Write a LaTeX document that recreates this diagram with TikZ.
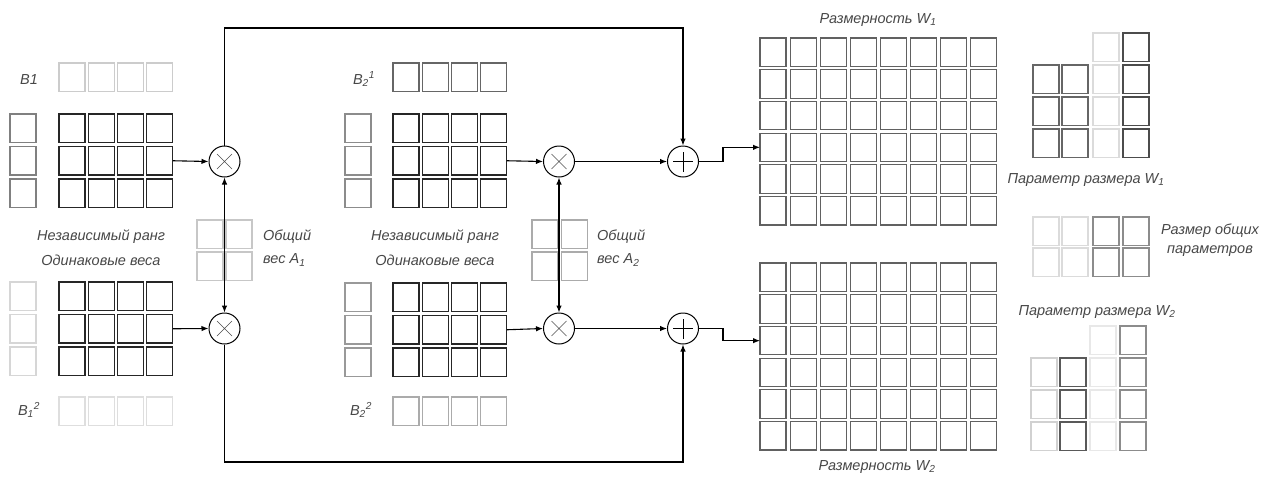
\documentclass[tikz,border=0pt]{standalone}
\usepackage{fontspec}
\setmainfont{Liberation Sans}
\usetikzlibrary{arrows.meta}
\newcommand\sqgrid[8]{%
  \foreach \rr in {1,...,#4}{\foreach \cc in {1,...,#5}{%
    \node[sq,draw=#8] (#1-\rr-\cc) at ({#2+(\cc-1)*#6},{#3+(\rr-1)*#7}) {};}}}
\tikzset{
  sq/.style={line width=1.1pt, inner sep=0pt, outer sep=0pt,
    minimum width=26pt, minimum height=28.5pt, anchor=north west},
  op/.style={circle, draw, line width=1pt, minimum size=31pt, inner sep=0pt},
  mulop/.style={op, path picture={
    \draw[line width=0.6pt, black!70]
      ([shift={(-7.5pt,-7.5pt)}]path picture bounding box.center) -- ([shift={(7.5pt,7.5pt)}]path picture bounding box.center)
      ([shift={(-7.5pt,7.5pt)}]path picture bounding box.center) -- ([shift={(7.5pt,-7.5pt)}]path picture bounding box.center);}},
  addop/.style={op, path picture={
    \draw[line width=0.7pt, black]
      ([shift={(-10pt,0pt)}]path picture bounding box.center) -- ([shift={(10pt,0pt)}]path picture bounding box.center)
      ([shift={(0pt,-10pt)}]path picture bounding box.center) -- ([shift={(0pt,10pt)}]path picture bounding box.center);}},
  conn/.style={line width=1.1pt, black},
  arr/.style={conn, -{Latex[length=7pt,width=5.5pt]}},
  darr/.style={conn, {Latex[length=7pt,width=5.5pt]}-{Latex[length=7pt,width=5.5pt]}},
  lbl/.style={font=\fontsize{14.5}{17}\selectfont\itshape, text=black!72, inner sep=0pt},
}
\begin{document}
\begin{tikzpicture}[x=1pt,y=-1pt]
\useasboundingbox (0,0) rectangle (1268,477);
% ---------- block 1 ----------
\sqgrid{ba}{59}{63}{1}{4}{29.3}{32.5}{black!20}
\sqgrid{la}{10}{114}{3}{1}{29.3}{32.5}{black!50}
\sqgrid{ga}{59}{114}{3}{4}{29.3}{32.5}{black!85}
\sqgrid{lb}{10}{282}{3}{1}{29.3}{32.5}{black!16}
\sqgrid{gb}{59}{282}{3}{4}{29.3}{32.5}{black!85}
\sqgrid{bb}{59}{397}{1}{4}{29.3}{32.5}{black!13}
\sqgrid{aa}{197}{220}{2}{2}{29}{32}{black!22}
% ---------- block 2 ----------
\sqgrid{bc}{393}{63}{1}{4}{29.3}{32.5}{black!60}
\sqgrid{lc}{345}{114}{3}{1}{29.3}{32.5}{black!45}
\sqgrid{gc}{393}{114}{3}{4}{29.3}{32.5}{black!85}
\sqgrid{ld}{345}{283}{3}{1}{29.3}{32.5}{black!40}
\sqgrid{gd}{393}{283}{3}{4}{29.3}{32.5}{black!85}
\sqgrid{bd}{393}{397}{1}{4}{29.3}{32.5}{black!33}
\sqgrid{ab}{532}{220}{2}{2}{29.5}{32}{black!33}
% ---------- W grids ----------
\sqgrid{wa}{760}{38}{6}{8}{30.1}{31.7}{black!62}
\sqgrid{wb}{760}{263}{6}{8}{30.1}{31.7}{black!62}
% ---------- parameter blocks ----------
\sqgrid{pa1}{1033}{65}{3}{1}{30}{32}{black!60}
\sqgrid{pa2}{1062}{65}{3}{1}{30}{32}{black!60}
\sqgrid{pa3}{1093}{33}{4}{1}{30}{32}{black!14}
\sqgrid{pa4}{1123}{33}{4}{1}{30}{32}{black!70}
\sqgrid{sh1}{1033}{217}{2}{1}{30}{31}{black!14}
\sqgrid{sh2}{1062}{217}{2}{1}{30}{31}{black!14}
\sqgrid{sh3}{1093}{217}{2}{1}{30}{31}{black!45}
\sqgrid{sh4}{1123}{217}{2}{1}{30}{31}{black!45}
\sqgrid{pb1}{1031}{358}{3}{1}{30}{32}{black!18}
\sqgrid{pb2}{1060}{358}{3}{1}{30}{32}{black!65}
\sqgrid{pb3}{1090}{326}{4}{1}{30}{32}{black!9}
\sqgrid{pb4}{1120}{326}{4}{1}{30}{32}{black!45}
% ---------- operators ----------
\node[mulop] (m1) at (224.5,161.5) {};
\node[mulop] (m2) at (224.5,328.5) {};
\node[mulop] (m3) at (559,161.5) {};
\node[mulop] (m4) at (559,328.5) {};
\node[addop] (p1) at (683,161.5) {};
\node[addop] (p2) at (683,328.5) {};
\coordinate (topy) at (0,28);
\coordinate (boty) at (0,462);
\coordinate (jx) at (723,0);
% ---------- connectors ----------
\draw[arr] (ga-2-4.east) -- (m1.west);
\draw[arr] (gb-2-4.east) -- (m2.west);
\draw[arr] (gc-2-4.east) -- (m3.west);
\draw[arr] (gd-2-4.east) -- (m4.west);
\draw[darr] (m1.south) -- (m2.north);
\draw[darr] (m3.south) -- (m4.north);
\draw[arr] (m3.east) -- (p1.west);
\draw[arr] (m4.east) -- (p2.west);
\draw[arr] (m1.north) -- (m1.north |- topy) -| (p1.north);
\draw[arr] (m2.south) -- (m2.south |- boty) -| (p2.south);
\draw[arr] (p1.east) -- (p1.east -| jx) |- (wa-4-1.west);
\draw[arr] (p2.east) -- (p2.east -| jx) |- (wb-3-1.west);
% ---------- labels ----------
\node[lbl] (tba) at (29,80) {B1};
\node[lbl] (tbb) at (29,410) {B\textsubscript{1}\textsuperscript{2}};
\node[lbl] (tbc) at (364,79) {B\textsubscript{2}\textsuperscript{1}};
\node[lbl] (tbd) at (361,410) {B\textsubscript{2}\textsuperscript{2}};
\node[lbl] (ta1) at (101,237) {Независимый ранг};
\node[lbl] (ta2) at (101,260) {Одинаковые веса};
\node[lbl] (tb1) at (435,237) {Независимый ранг};
\node[lbl] (tb2) at (435,260) {Одинаковые веса};
\node[lbl, anchor=west] (tc1) at (263,237) {Общий};
\node[lbl, anchor=west] (tc2) at (263,260) {вес A\textsubscript{1}};
\node[lbl, anchor=west] (td1) at (597,237) {Общий};
\node[lbl, anchor=west] (td2) at (597,260) {вес A\textsubscript{2}};
\node[lbl] (tw1) at (878,20) {Размерность W\textsubscript{1}};
\node[lbl] (tw2) at (877,467) {Размерность W\textsubscript{2}};
\node[lbl] (tp1) at (1086,180) {Параметр размера W\textsubscript{1}};
\node[lbl] (ts1) at (1210,231) {Размер общих};
\node[lbl] (ts2) at (1210,251) {параметров};
\node[lbl] (tp2) at (1097,312) {Параметр размера W\textsubscript{2}};
\end{tikzpicture}
\end{document}
